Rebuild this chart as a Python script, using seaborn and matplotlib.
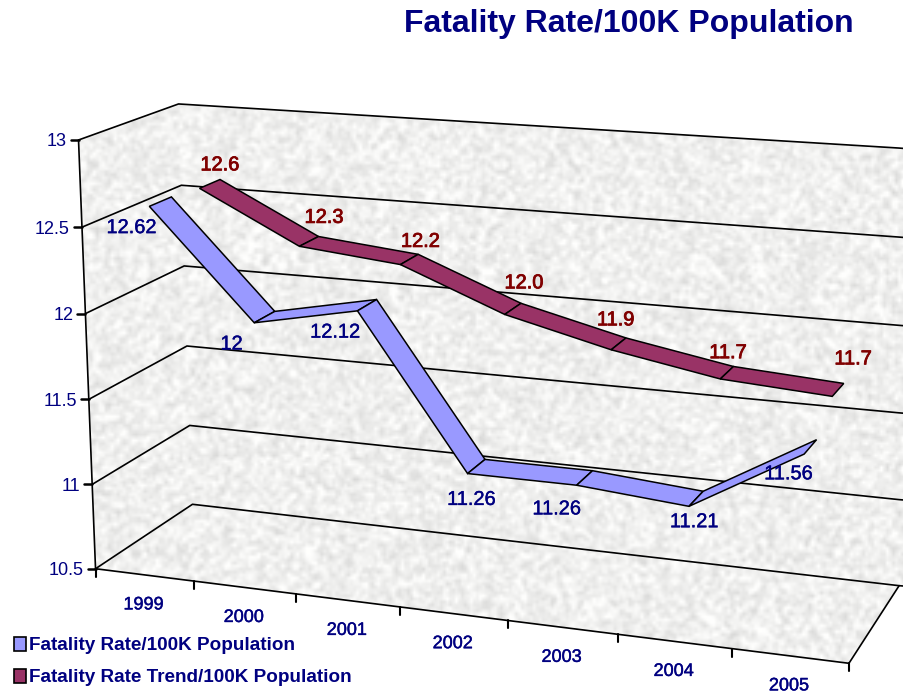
import numpy as np
import pandas as pd
import matplotlib
matplotlib.use("Agg")
import matplotlib.pyplot as plt
import matplotlib.patheffects as pe
from matplotlib.patches import Patch, PathPatch
from matplotlib.path import Path
import seaborn as sns

# Chart data
years = ["1999", "2000", "2001", "2002", "2003", "2004", "2005"]
fatality_rate = [12.62, 12, 12.12, 11.26, 11.26, 11.21, 11.56]
fatality_trend = [12.6, 12.3, 12.24, 12.0, 11.85, 11.74, 11.7]
rate_labels = ["12.62", "12", "12.12", "11.26", "11.26", "11.21", "11.56"]
trend_labels = ["12.6", "12.3", "12.2", "12.0", "11.9", "11.7", "11.7"]
y_ticks = [10.5, 11, 11.5, 12, 12.5, 13]
y_tick_labels = ["10.5", "11", "11.5", "12", "12.5", "13"]

# Label offsets in pixels from the ribbon middle
rate_offsets = [(-29, 26), (-33, 27), (-32, 27), (-5, 33), (-28, 31), (-2, 23), (-22, 27)]
trend_offsets = [(10, -19), (15, -24), (11, -18), (11, -26), (-3, -24), (1, -20), (15, -31)]

NAVY = "#000080"
MAROON = "#800000"
RATE_COLOR = "#9999FF"
TREND_COLOR = "#993366"
W, H = 904, 693
POINT_POS = 0.58

sns.set_theme(style="white")
plt.rcParams["font.family"] = ["Liberation Sans", "DejaVu Sans"]

# Camera fitted on the corners of the 3D box: (category, value, depth) -> pixel
box_world = [(0, 10.5, 0), (0, 13, 0), (0, 10.5, 1), (0, 13, 1), (7, 10.5, 0), (7, 10.5, 1), (7, 13, 1)]
box_pixel = [(95, 569), (79, 140), (193, 504), (178, 104), (849, 663), (899, 586), (899, 148)]


def fit_camera():
    rows, rhs = [], []
    for (x, v, d), (u, w) in zip(box_world, box_pixel):
        X, Y, Z = x / 7, (v - 10.5) / 2.5, d
        rows.append([X, Y, Z, 1, 0, 0, 0, 0, -u * X, -u * Y, -u * Z])
        rows.append([0, 0, 0, 0, X, Y, Z, 1, -w * X, -w * Y, -w * Z])
        rhs += [u, w]
    p = np.linalg.lstsq(np.array(rows, float), np.array(rhs, float), rcond=None)[0]
    return np.append(p, 1).reshape(3, 4)


camera = fit_camera()


def project(x, v, d):
    q = camera @ np.array([x / 7, (v - 10.5) / 2.5, d, 1.0])
    return q[0] / q[2], q[1] / q[2]


def speckle():
    # deterministic grey stone texture
    yy, xx = np.mgrid[0:H // 3 + 1, 0:W // 3 + 1]
    n = np.sin(xx * 12.9898 + yy * 78.233) * 43758.5453
    n = n - np.floor(n)
    kernel = np.ones(2) / 2
    n = np.apply_along_axis(lambda r: np.convolve(r, kernel, mode="same"), 0, n)
    n = np.apply_along_axis(lambda r: np.convolve(r, kernel, mode="same"), 1, n)
    g = np.clip(0.94 + (n - 0.5) * 0.2, 0.78, 1)
    return np.dstack([g, g, g * 0.995])


fig = plt.figure(figsize=(W / 100, H / 100), dpi=100)
ax = fig.add_axes([0, 0, 1, 1])
heavy = [pe.withStroke(linewidth=0.3, foreground=NAVY)]

# Walls and floor
corners = [project(0, 13, 0), project(0, 13, 1), project(7, 13, 1), (W, project(7, 13, 1)[1]),
           (W, project(7, 10.5, 1)[1]), project(7, 10.5, 1), project(7, 10.5, 0), project(0, 10.5, 0)]
img = ax.imshow(speckle(), extent=(0, W, H, 0), aspect="auto", interpolation="bilinear", zorder=0)
clip = PathPatch(Path(corners + [corners[0]]), transform=ax.transData, fc="none", ec="none")
ax.add_patch(clip)
img.set_clip_path(clip)

# Gridlines and box outline
lines = []


def add_line(name, pts):
    for u, w in pts:
        lines.append({"line": name, "u": u, "w": w})


for v in y_ticks:
    add_line(f"grid{v}", [project(0, v, 0), project(0, v, 1), project(7, v, 1), (W, project(7, v, 1)[1] + 0.4)])
add_line("left", [project(0, 13, 0), project(0, 10.5, 0)])
add_line("front", [project(0, 10.5, 0), project(7, 10.5, 0), project(7, 10.5, 1)])
grid_df = pd.DataFrame(lines)
sns.lineplot(data=grid_df, x="u", y="w", units="line", estimator=None, sort=False,
             color="black", linewidth=1.2, legend=False, ax=ax, zorder=2)

# Axis ticks
for v in y_ticks:
    u, w = project(0, v, 0)
    ax.plot([u - 8, u], [w, w], color="black", lw=1.8, zorder=2)
for i in range(8):
    u, w = project(i, 10.5, 0)
    ax.plot([u, u], [w, w + 8], color="black", lw=1.5, zorder=2)


def draw_ribbon(values, d0, d1, color):
    front = [project(i + POINT_POS, v, d0) for i, v in enumerate(values)]
    back = [project(i + POINT_POS, v, d1) for i, v in enumerate(values)]
    for i in range(len(values) - 1):
        poly = np.array([front[i], front[i + 1], back[i + 1], back[i]])
        ax.fill(poly[:, 0], poly[:, 1], fc=color, ec="black", lw=1.1, zorder=3)


draw_ribbon(fatality_rate, 0.10, 0.32, RATE_COLOR)
draw_ribbon(fatality_trend, 0.61, 0.83, TREND_COLOR)

# Data labels
for i, (v, lab) in enumerate(zip(fatality_rate, rate_labels)):
    u, w = project(i + POINT_POS, v, 0.21)
    ax.text(u + rate_offsets[i][0], w + rate_offsets[i][1], lab, color=NAVY, fontsize=14.4,
            ha="center", va="center", zorder=5, path_effects=heavy)
for i, (v, lab) in enumerate(zip(fatality_trend, trend_labels)):
    u, w = project(i + POINT_POS, v, 0.72)
    ax.text(u + trend_offsets[i][0], w + trend_offsets[i][1], lab, color=MAROON, fontsize=14.4,
            ha="center", va="center", zorder=5,
            path_effects=[pe.withStroke(linewidth=0.6, foreground=MAROON)])

# Axis tick labels
for v, lab in zip(y_ticks, y_tick_labels):
    u, w = project(0, v, 0)
    ax.text(u - 12, w + 2, lab, color=NAVY, fontsize=13, ha="right", va="center")
for i, lab in enumerate(years):
    u, w = project(i + 0.5, 10.5, 0)
    ax.text(u - 1, w + 30, lab, color=NAVY, fontsize=13, ha="center", va="center", path_effects=heavy)

ax.text(628.5, 24, "Fatality Rate/100K Population", color=NAVY, fontsize=23, fontweight="bold",
        ha="center", va="center")

handles = [Patch(fc=RATE_COLOR, ec="black", lw=1.2), Patch(fc=TREND_COLOR, ec="black", lw=1.2)]
ax.legend(handles, ["Fatality Rate/100K Population", "Fatality Rate Trend/100K Population"],
          loc="lower left", bbox_to_anchor=(0.005, -0.004), frameon=False,
          prop={"weight": "bold", "size": 13.6}, labelcolor=NAVY, handlelength=0.65,
          handleheight=0.8, handletextpad=0.15, labelspacing=0.75, borderpad=0.2, borderaxespad=0.3)

ax.set_xlim(0, W)
ax.set_ylim(H, 0)
ax.axis("off")
fig.savefig("out.png", dpi=100)
